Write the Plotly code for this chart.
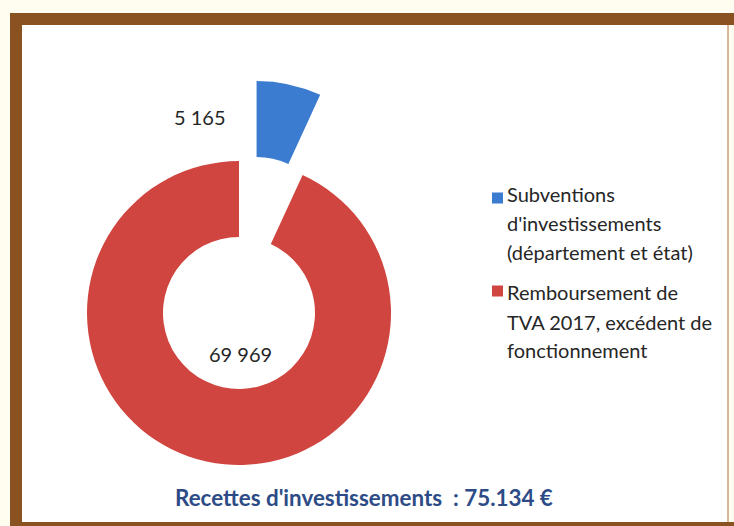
import math
import plotly.graph_objects as go

# ---- data ----
labels = ["Subventions d'investissements (département et état)",
          "Remboursement de TVA 2017, excédent de fonctionnement"]
values = [5165, 69969]
legend_lines = [["Subventions", "d'investissements", "(département et état)"],
                ["Remboursement de", "TVA 2017, excédent de", "fonctionnement"]]
title_text = "Recettes d'investissements  : 75.134 €"

colors = ["#3B7BD0", "#D0453F"]
W, H = 734, 526
FONT = "Lato"

def px(x):
    return x / W

def py(y):
    return 1 - y / H

# geometry of the donut (pixels)
cx, cy, r = 239, 313, 152
pull_px = 82
total = sum(values)
mid = values[0] / total * math.pi  # mid-angle of first slice (radians, clockwise from top)
dx, dy = pull_px * math.sin(mid), pull_px * math.cos(mid)

def dom(cx_, cy_):
    return dict(x=[px(cx_ - r), px(cx_ + r)], y=[py(cy_ + r), py(cy_ - r)])

fig = go.Figure()
# red ring (first slice hidden)
fig.add_trace(go.Pie(labels=labels, values=values, sort=False, direction="clockwise",
                     rotation=0, hole=0.5, textinfo="none", hoverinfo="label+value",
                     marker=dict(colors=["rgba(0,0,0,0)", colors[1]], line=dict(width=0)),
                     domain=dom(cx, cy), showlegend=False))
# blue slice exploded
fig.add_trace(go.Pie(labels=labels, values=values, sort=False, direction="clockwise",
                     rotation=0, hole=0.5, textinfo="none", hoverinfo="label+value",
                     marker=dict(colors=[colors[0], "rgba(0,0,0,0)"], line=dict(width=0)),
                     domain=dom(cx + dx, cy - dy), showlegend=False))

def fmt(v):
    return f"{v:,}".replace(",", " ")

annotations = [
    dict(x=px(200), y=py(117), text=fmt(values[0])),
    dict(x=px(240), y=py(354), text=fmt(values[1])),
]
for a in annotations:
    a.update(xref="paper", yref="paper", showarrow=False, xanchor="center", yanchor="middle",
             font=dict(family=FONT, size=20, color="#262626"))

BROWN = "#8B5221"
shapes = [
    # frame
    dict(type="rect", xref="paper", yref="paper", x0=px(10), x1=px(740), y0=py(25), y1=py(13),
         fillcolor=BROWN, line=dict(width=0), layer="below"),
    dict(type="rect", xref="paper", yref="paper", x0=px(10), x1=px(22), y0=py(530), y1=py(13),
         fillcolor=BROWN, line=dict(width=0), layer="below"),
    dict(type="rect", xref="paper", yref="paper", x0=px(10), x1=px(740), y0=py(530), y1=py(522),
         fillcolor=BROWN, line=dict(width=0), layer="below"),
    dict(type="rect", xref="paper", yref="paper", x0=px(22), x1=px(729), y0=py(522), y1=py(25),
         fillcolor="#D9B89A", line=dict(width=0), layer="below"),
    dict(type="rect", xref="paper", yref="paper", x0=px(22), x1=px(727), y0=py(522), y1=py(25),
         fillcolor="#FFFFFF", line=dict(width=0), layer="below"),
]

line_y = [[194, 223, 252], [292, 322, 350]]
sq_y = [198, 291]
for i, lines in enumerate(legend_lines):
    shapes.append(dict(type="rect", xref="paper", yref="paper", x0=px(492), x1=px(503),
                       y0=py(sq_y[i] + 5.5), y1=py(sq_y[i] - 5.5),
                       fillcolor=colors[i], line=dict(width=0)))
    for j, t in enumerate(lines):
        annotations.append(dict(x=px(505), y=py(line_y[i][j]), text=t, xref="paper", yref="paper",
                                showarrow=False, xanchor="left", yanchor="middle",
                                font=dict(family=FONT, size=20, color="#262626")))

annotations.append(dict(x=px(364), y=py(497), text="<b>" + title_text + "</b>", xref="paper",
                        yref="paper", showarrow=False, xanchor="center", yanchor="middle",
                        font=dict(family=FONT, size=22.4, color="#2D4B86")))

fig.update_layout(width=W, height=H, margin=dict(l=0, r=0, t=0, b=0),
                  paper_bgcolor="#FFFDF0", plot_bgcolor="#FFFFFF",
                  shapes=shapes, annotations=annotations, showlegend=False)

fig.write_html("out.html", config={"displayModeBar": False},
               post_script="document.body.style.margin='0';document.body.style.overflow='hidden';")
